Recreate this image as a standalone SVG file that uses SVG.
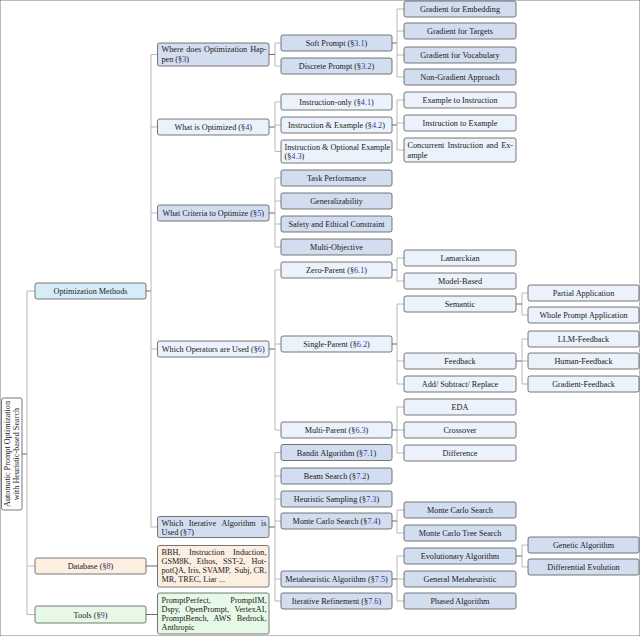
<svg xmlns="http://www.w3.org/2000/svg" width="640" height="636" viewBox="0 0 640 636">
<style>
rect{stroke:#555;stroke-width:0.8}
.d{fill:#d3ddf0}
.l{fill:#ebf2fb}
.om{fill:#d6edf9}
.db{fill:#fdeee2}
.tl{fill:#e6f8e6}
.rt{fill:#ffffff}
text{font-family:"Liberation Serif","Times New Roman",serif;font-size:8.2px;fill:#1a1a1a}
.c{text-anchor:middle}
.n{fill:#2b3aa0}
.e{stroke:#a6a6a6;stroke-width:0.8;fill:none}
.s{stroke:#444;stroke-width:0.8;fill:none}
</style>
<rect x="0" y="0" width="640" height="636" fill="#fff" stroke="none"/>
<g id="connectors">
<path class="s" d="M22,454H27"/>
<path class="e" d="M27,291V614.5M27,291H35M27,566H35M27,614.5H35"/>
<path class="s" d="M146,291H151"/>
<path class="e" d="M151,54.5V527M151,54.5H157.5M151,127H157.5M151,213H157.5M151,349H157.5M151,527H157.5"/>
<path class="s" d="M146,566H157.5M146,614.5H157.5"/>
<path class="s" d="M269,54.5H275M269,127H275M269,213H275M269,349H275M269,527H275"/>
<path class="e" d="M275,43V66M275,43H281M275,66H281"/>
<path class="e" d="M275,102V151.5M275,102H281M275,125H281M275,151.5H281"/>
<path class="e" d="M275,178V247M275,178H281M275,201H281M275,224H281M275,247H281"/>
<path class="e" d="M275,270V430M275,270H281M275,344H281M275,430H281"/>
<path class="e" d="M275,452.5V601M275,452.5H281M275,476H281M275,499H281M275,521H281M275,579H281M275,601H281"/>
<path class="s" d="M392,43H397M392,125H397M392,270H397M392,344H397M392,430H397M392,521H397M392,579H397"/>
<path class="e" d="M397,9V77M397,9H404M397,31H404M397,55H404M397,77H404"/>
<path class="e" d="M397,100V150M397,100H404M397,123H404M397,150H404"/>
<path class="e" d="M397,258V281M397,258H404M397,281H404"/>
<path class="e" d="M397,304V384M397,304H404M397,361H404M397,384H404"/>
<path class="e" d="M397,407V453M397,407H404M397,430H404M397,453H404"/>
<path class="e" d="M397,510V533M397,510H404M397,533H404"/>
<path class="e" d="M397,556V601M397,556H404M397,579H404M397,601H404"/>
<path class="s" d="M516,304H522M516,361H522M516,556H522"/>
<path class="e" d="M522,293V315M522,293H528M522,315H528"/>
<path class="e" d="M522,339V384M522,339H528M522,361H528M522,384H528"/>
<path class="e" d="M522,545V567M522,545H528M522,567H528"/>
</g>
<g id="root"><rect class="rt" x="1.5" y="398" width="20.5" height="112" rx="2"/>
<text class="c" transform="translate(11.5,454) rotate(-90)"><tspan x="0" y="-1.5">Automatic Prompt Optimization</tspan><tspan x="0" y="7.5">with Heuristic-based Search</tspan></text></g>
<g id="optimization-methods"><rect class="om" x="35" y="283" width="111" height="16" rx="2"/><text class="c" x="90.5" y="294">Optimization Methods</text></g>
<g id="database"><rect class="db" x="35" y="558" width="111" height="16" rx="2"/><text class="c" x="90.5" y="569">Database (§<tspan class="n">8</tspan>)</text></g>
<g id="tools"><rect class="tl" x="35" y="606" width="111" height="17" rx="2"/><text class="c" x="90.5" y="617.5">Tools (§<tspan class="n">9</tspan>)</text></g>
<g id="where"><rect class="d" x="157.5" y="43" width="111.5" height="23" rx="2"/>
<text y="52"><tspan x="161.5">Where</tspan><tspan x="186.2">does</tspan><tspan x="204">Optimization</tspan><tspan x="266.5" text-anchor="end">Hap-</tspan></text>
<text x="161.5" y="61.5">pen (§<tspan class="n">3</tspan>)</text></g>
<g id="what"><rect class="l" x="157.5" y="119" width="111.5" height="16" rx="2"/><text class="c" x="213.25" y="130">What is Optimized (§<tspan class="n">4</tspan>)</text></g>
<g id="criteria"><rect class="d" x="157.5" y="205" width="111.5" height="16" rx="2"/><text class="c" x="213.25" y="216">What Criteria to Optimize (§<tspan class="n">5</tspan>)</text></g>
<g id="operators"><rect class="l" x="157.5" y="341" width="111.5" height="16" rx="2"/><text class="c" x="213.25" y="352">Which Operators are Used (§<tspan class="n">6</tspan>)</text></g>
<g id="iterative"><rect class="d" x="157.5" y="516.5" width="111.5" height="21" rx="2"/>
<text y="525.5"><tspan x="161.5">Which</tspan><tspan x="188.8">Iterative</tspan><tspan x="221.5">Algorithm</tspan><tspan x="266.5" text-anchor="end">is</tspan></text>
<text x="161.5" y="534.5">Used (§<tspan class="n">7</tspan>)</text></g>
<g id="database-list"><rect class="db" x="157.5" y="545.5" width="111.5" height="41.5" rx="2"/>
<text y="555"><tspan x="161.5">BBH,</tspan><tspan x="189">Instruction</tspan><tspan x="266.5" text-anchor="end">Induction,</tspan></text>
<text y="564"><tspan x="161.5">GSM8K,</tspan><tspan x="196.8">Ethos,</tspan><tspan x="223">SST-2,</tspan><tspan x="266.5" text-anchor="end">Hot-</tspan></text>
<text y="573"><tspan x="161.5">potQA,</tspan><tspan x="187.7">Iris,</tspan><tspan x="202.5">SVAMP,</tspan><tspan x="234.6">Subj,</tspan><tspan x="266.5" text-anchor="end">CR,</tspan></text>
<text x="161.5" y="582">MR, TREC, Liar ...</text></g>
<g id="tools-list"><rect class="tl" x="157.5" y="593" width="111.5" height="41" rx="2"/>
<text y="602.5"><tspan x="161.5">PromptPerfect,</tspan><tspan x="266.5" text-anchor="end">PromptIM,</tspan></text>
<text y="611.5"><tspan x="161.5">Dspy,</tspan><tspan x="185.2">OpenPrompt,</tspan><tspan x="266.5" text-anchor="end">VertexAI,</tspan></text>
<text y="620.5"><tspan x="161.5">PromptBench,</tspan><tspan x="213.6">AWS</tspan><tspan x="266.5" text-anchor="end">Bedrock,</tspan></text>
<text x="161.5" y="629.5">Anthropic</text></g>
<g id="soft"><rect class="d" x="281" y="35" width="111" height="16" rx="2"/><text class="c" x="336.5" y="46">Soft Prompt (§<tspan class="n">3.1</tspan>)</text></g>
<g id="discrete"><rect class="d" x="281" y="58" width="111" height="16" rx="2"/><text class="c" x="336.5" y="69">Discrete Prompt (§<tspan class="n">3.2</tspan>)</text></g>
<g id="instr-only"><rect class="l" x="281" y="94" width="111" height="16" rx="2"/><text class="c" x="336.5" y="105">Instruction-only (§<tspan class="n">4.1</tspan>)</text></g>
<g id="instr-example"><rect class="l" x="281" y="117" width="111" height="16" rx="2"/><text class="c" x="336.5" y="128">Instruction &amp; Example (§<tspan class="n">4.2</tspan>)</text></g>
<g id="instr-optional"><rect class="l" x="281" y="140" width="111" height="23" rx="2"/><text x="284.5" y="149.5">Instruction &amp; Optional Example</text><text x="284.5" y="159">(§<tspan class="n">4.3</tspan>)</text></g>
<g id="task-perf"><rect class="d" x="281" y="170" width="111" height="16" rx="2"/><text class="c" x="336.5" y="181">Task Performance</text></g>
<g id="generalizability"><rect class="d" x="281" y="193" width="111" height="16" rx="2"/><text class="c" x="336.5" y="204">Generalizability</text></g>
<g id="safety"><rect class="d" x="281" y="216" width="111" height="16" rx="2"/><text class="c" x="336.5" y="227">Safety and Ethical Constraint</text></g>
<g id="multi-objective"><rect class="d" x="281" y="239" width="111" height="16" rx="2"/><text class="c" x="336.5" y="250">Multi-Objective</text></g>
<g id="zero-parent"><rect class="l" x="281" y="262" width="111" height="16" rx="2"/><text class="c" x="336.5" y="273">Zero-Parent (§<tspan class="n">6.1</tspan>)</text></g>
<g id="single-parent"><rect class="l" x="281" y="336" width="111" height="16" rx="2"/><text class="c" x="336.5" y="347">Single-Parent (§<tspan class="n">6.2</tspan>)</text></g>
<g id="multi-parent"><rect class="l" x="281" y="422" width="111" height="16" rx="2"/><text class="c" x="336.5" y="433">Multi-Parent (§<tspan class="n">6.3</tspan>)</text></g>
<g id="bandit"><rect class="d" x="281" y="444.5" width="111" height="16" rx="2"/><text class="c" x="336.5" y="455.5">Bandit Algorithm (§<tspan class="n">7.1</tspan>)</text></g>
<g id="beam"><rect class="d" x="281" y="468" width="111" height="16" rx="2"/><text class="c" x="336.5" y="479">Beam Search (§<tspan class="n">7.2</tspan>)</text></g>
<g id="heuristic"><rect class="d" x="281" y="491" width="111" height="16" rx="2"/><text class="c" x="336.5" y="502">Heuristic Sampling (§<tspan class="n">7.3</tspan>)</text></g>
<g id="monte-carlo"><rect class="d" x="281" y="513" width="111" height="16" rx="2"/><text class="c" x="336.5" y="524">Monte Carlo Search (§<tspan class="n">7.4</tspan>)</text></g>
<g id="metaheuristic"><rect class="d" x="281" y="571" width="111" height="16" rx="2"/><text class="c" x="336.5" y="582">Metaheuristic Algorithm (§<tspan class="n">7.5</tspan>)</text></g>
<g id="iter-refine"><rect class="d" x="281" y="593" width="111" height="16" rx="2"/><text class="c" x="336.5" y="604">Iterative Refinement (§<tspan class="n">7.6</tspan>)</text></g>
<g id="grad-embed"><rect class="d" x="404" y="1" width="112" height="16" rx="2"/><text class="c" x="460" y="12">Gradient for Embedding</text></g>
<g id="grad-targets"><rect class="d" x="404" y="23" width="112" height="16" rx="2"/><text class="c" x="460" y="34">Gradient for Targets</text></g>
<g id="grad-vocab"><rect class="d" x="404" y="47" width="112" height="16" rx="2"/><text class="c" x="460" y="58">Gradient for Vocabulary</text></g>
<g id="non-grad"><rect class="d" x="404" y="69" width="112" height="16" rx="2"/><text class="c" x="460" y="80">Non-Gradient Approach</text></g>
<g id="ex-to-instr"><rect class="l" x="404" y="92" width="112" height="16" rx="2"/><text class="c" x="460" y="103">Example to Instruction</text></g>
<g id="instr-to-ex"><rect class="l" x="404" y="115" width="112" height="16" rx="2"/><text class="c" x="460" y="126">Instruction to Example</text></g>
<g id="concurrent"><rect class="l" x="404" y="138" width="112" height="24" rx="2"/>
<text y="148"><tspan x="407.5">Concurrent</tspan><tspan x="447.5">Instruction</tspan><tspan x="486.2">and</tspan><tspan x="513" text-anchor="end">Ex-</tspan></text>
<text x="407.5" y="157.5">ample</text></g>
<g id="lamarckian"><rect class="l" x="404" y="250" width="112" height="16" rx="2"/><text class="c" x="460" y="261">Lamarckian</text></g>
<g id="model-based"><rect class="l" x="404" y="273" width="112" height="16" rx="2"/><text class="c" x="460" y="284">Model-Based</text></g>
<g id="semantic"><rect class="l" x="404" y="296" width="112" height="16" rx="2"/><text class="c" x="460" y="307">Semantic</text></g>
<g id="feedback"><rect class="l" x="404" y="353" width="112" height="16" rx="2"/><text class="c" x="460" y="364">Feedback</text></g>
<g id="add-sub"><rect class="l" x="404" y="376" width="112" height="16" rx="2"/><text class="c" x="460" y="387">Add/ Subtract/ Replace</text></g>
<g id="eda"><rect class="l" x="404" y="399" width="112" height="16" rx="2"/><text class="c" x="460" y="410">EDA</text></g>
<g id="crossover"><rect class="l" x="404" y="422" width="112" height="16" rx="2"/><text class="c" x="460" y="433">Crossover</text></g>
<g id="difference"><rect class="l" x="404" y="445" width="112" height="16" rx="2"/><text class="c" x="460" y="456">Difference</text></g>
<g id="mcs"><rect class="d" x="404" y="502" width="112" height="16" rx="2"/><text class="c" x="460" y="513">Monte Carlo Search</text></g>
<g id="mcts"><rect class="d" x="404" y="525" width="112" height="16" rx="2"/><text class="c" x="460" y="536">Monte Carlo Tree Search</text></g>
<g id="evolutionary"><rect class="d" x="404" y="548" width="112" height="16" rx="2"/><text class="c" x="460" y="559">Evolutionary Algorithm</text></g>
<g id="general-meta"><rect class="d" x="404" y="571" width="112" height="16" rx="2"/><text class="c" x="460" y="582">General Metaheuristic</text></g>
<g id="phased"><rect class="d" x="404" y="593" width="112" height="16" rx="2"/><text class="c" x="460" y="604">Phased Algorithm</text></g>
<g id="partial"><rect class="l" x="528" y="285" width="111" height="16" rx="2"/><text class="c" x="583.5" y="296">Partial Application</text></g>
<g id="whole"><rect class="l" x="528" y="307" width="111" height="16" rx="2"/><text class="c" x="583.5" y="318">Whole Prompt Application</text></g>
<g id="llm-fb"><rect class="l" x="528" y="331" width="111" height="16" rx="2"/><text class="c" x="583.5" y="342">LLM-Feedback</text></g>
<g id="human-fb"><rect class="l" x="528" y="353" width="111" height="16" rx="2"/><text class="c" x="583.5" y="364">Human-Feedback</text></g>
<g id="grad-fb"><rect class="l" x="528" y="376" width="111" height="16" rx="2"/><text class="c" x="583.5" y="387">Gradient-Feedback</text></g>
<g id="genetic"><rect class="d" x="528" y="537" width="111" height="16" rx="2"/><text class="c" x="583.5" y="548">Genetic Algorithm</text></g>
<g id="differential"><rect class="d" x="528" y="559" width="111" height="16" rx="2"/><text class="c" x="583.5" y="570">Differential Evolution</text></g>
</svg>
